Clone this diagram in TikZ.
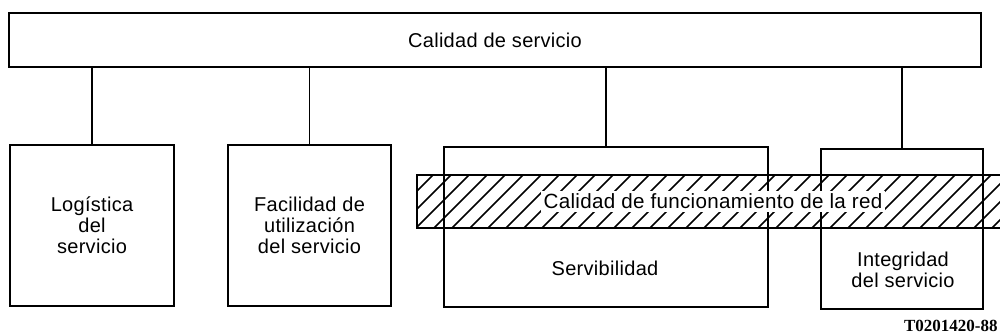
\documentclass[tikz,border=0pt]{standalone}
\usepackage{fontspec}
\setmainfont{Liberation Sans}[LetterSpace=1.5]
\newfontfamily\tagfont{Liberation Serif}
\usetikzlibrary{positioning}

\tikzset{
	blk/.style={draw, line width=0.9pt, inner sep=0pt, align=center},
	hatchline/.style={line width=0.8pt},
}

\begin{document}
\begin{tikzpicture}[x=0.5pt, y=-0.5pt, font=\fontsize{10}{10.5}\selectfont]
		\useasboundingbox (0,0) rectangle (1000,336);
		
		% hatched band
		\begin{scope}
			\clip (417,175) rectangle (1000,228);
			\foreach \x in {380,398,...,1020}
				\draw[hatchline] (\x,228) -- ++(53,-53);
		\end{scope}
		\draw[line width=0.9pt] (1010,175) -- (417,175) -- (417,228) -- (1010,228);
		
		\node[blk, minimum width=486pt, minimum height=27pt] (qos) at (495,40) {Calidad de servicio};
		
		\node[blk, minimum width=82pt, minimum height=80.5pt] (logis) at (92,225.5) {Logística\\del\\servicio};
		\node[blk, minimum width=81.5pt, minimum height=80.5pt] (facil) at (309.5,225.5) {Facilidad de\\utilización\\del servicio};
		\node[blk, minimum width=162pt, minimum height=80pt] (servib) at (606,227) {};
		\node[blk, minimum width=81pt, minimum height=80pt] (integ) at (902,229) {};
		
		\node (servibt) at (605,268) {Servibilidad};
		\node[align=center] (integt) at (903,270) {Integridad\\del servicio};
		
		\node[fill=white, inner sep=1.5pt, font=\fontsize{10.3}{11}\selectfont] (red) at (713,201.5) {Calidad de funcionamiento de la red};
		
		\draw[line width=0.9pt] (logis.north |- qos.south) -- (logis.north);
		\draw[line width=0.9pt] (facil.north |- qos.south) -- (facil.north);
		\draw[line width=0.9pt] (servib.north |- qos.south) -- (servib.north);
		\draw[line width=0.9pt] (integ.north |- qos.south) -- (integ.north);
		
		\node[anchor=east, inner sep=0.5pt, font=\tagfont\bfseries\fontsize{8.5}{9}\selectfont] (tag) at (999,326) {T0201420-88};
	\end{tikzpicture}
\end{document}
